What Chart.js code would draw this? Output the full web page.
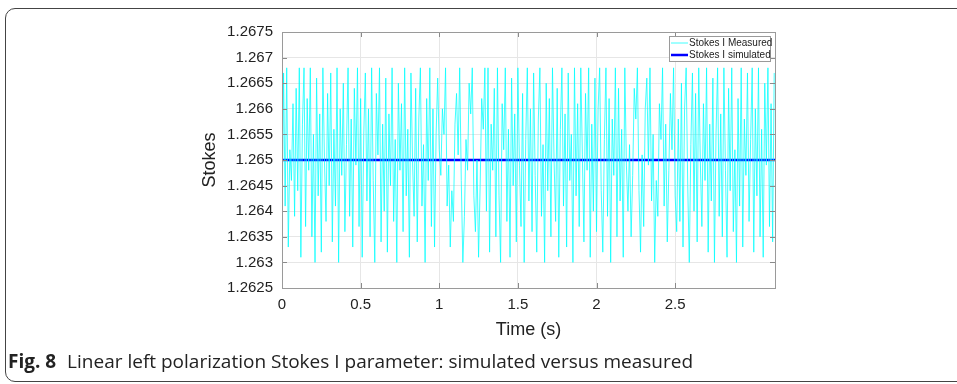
<!DOCTYPE html>
<html>
<head>
<meta charset="utf-8">
<script src="https://cdn.jsdelivr.net/npm/chart.js@4.4.1/dist/chart.umd.min.js"></script>
<style>
  body { margin: 0; background: #fff; }
  #wrap { position: relative; width: 957px; height: 384px; overflow: hidden; }
  #frame { position: absolute; left: 5px; top: 8px; width: 1000px; height: 372px; border: 1.5px solid #444; border-radius: 10px; }
  #chartStokes { position: absolute; left: 0; top: 0; }
  #caption { position: absolute; left: 8px; top: 348px; font-family: 'Open Sans', 'Noto Sans', sans-serif; font-size: 19px; color: #222; white-space: nowrap; }
  #caption b { font-weight: 700; margin-right: 6px; }
</style>
</head>
<body>
<div id="wrap">
  <div id="frame"></div>
  <canvas id="chartStokes" width="957" height="384"></canvas>
  <div id="caption"><b>Fig. 8</b> Linear left polarization Stokes I parameter: simulated versus measured</div>
</div>
<script>
// sample spacing of the measured trace (s) and end of the time axis
const SAMPLE_STEP = 0.01;
const T_END = 3.135;

const xTickValues = [0, 0.5, 1, 1.5, 2, 2.5];
const yTickValues = [1.2625, 1.263, 1.2635, 1.264, 1.2645, 1.265, 1.2655, 1.266, 1.2665, 1.267, 1.2675];

const measuredLabel = 'Stokes I Measured';
const simulatedLabel = 'Stokes I simulated';

// Stokes I measured
const measured = [
  1.2636, 1.2667, 1.2641, 1.2668, 1.2633, 1.2652, 1.2646, 1.2661, 1.2639, 1.2664,
  1.2644, 1.2668, 1.2631, 1.2657, 1.2668, 1.2637, 1.2662, 1.2648, 1.2668, 1.2635,
  1.2655, 1.2630, 1.2666, 1.2643, 1.2659, 1.2632, 1.2668, 1.2650, 1.2638, 1.2663,
  1.2645, 1.2667, 1.2634, 1.2656, 1.2641, 1.2668, 1.2630, 1.2660, 1.2647, 1.2665,
  1.2636, 1.2653, 1.2668, 1.2639, 1.2658, 1.2633, 1.2664, 1.2649, 1.2668, 1.2637,
  1.2662, 1.2631, 1.2655, 1.2667, 1.2642, 1.2660, 1.2635, 1.2668, 1.2646, 1.2630,
  1.2663, 1.2651, 1.2668, 1.2634, 1.2657, 1.2640, 1.2666, 1.2632, 1.2659, 1.2645,
  1.2668, 1.2638, 1.2654, 1.2630, 1.2665, 1.2648, 1.2661, 1.2636, 1.2668, 1.2643,
  1.2656, 1.2631, 1.2667, 1.2650, 1.2639, 1.2664, 1.2634, 1.2658, 1.2668, 1.2641,
  1.2653, 1.2630, 1.2662, 1.2646, 1.2668, 1.2637, 1.2660, 1.2633, 1.2655, 1.2666,
  1.2652, 1.2647, 1.2660, 1.2655, 1.2668, 1.2641, 1.2649, 1.2633, 1.2644, 1.2638,
  1.2657, 1.2663, 1.2651, 1.2668, 1.2646, 1.2630, 1.2639, 1.2654, 1.2648, 1.2665,
  1.2659, 1.2668, 1.2643, 1.2636, 1.2650, 1.2631, 1.2645, 1.2662, 1.2656, 1.2668,
  1.2640, 1.2668, 1.2632, 1.2657, 1.2648, 1.2664, 1.2635, 1.2668, 1.2643, 1.2630,
  1.2661, 1.2652, 1.2668, 1.2638, 1.2656, 1.2631, 1.2666, 1.2645, 1.2659, 1.2634,
  1.2668, 1.2649, 1.2637, 1.2663, 1.2630, 1.2654, 1.2668, 1.2642, 1.2660, 1.2636,
  1.2667, 1.2647, 1.2632, 1.2658, 1.2668, 1.2639, 1.2653, 1.2630, 1.2665, 1.2644,
  1.2662, 1.2635, 1.2668, 1.2650, 1.2638, 1.2664, 1.2631, 1.2656, 1.2668, 1.2641,
  1.2659, 1.2633, 1.2667, 1.2646, 1.2655, 1.2630, 1.2668, 1.2643, 1.2661, 1.2637,
  1.2668, 1.2651, 1.2634, 1.2663, 1.2648, 1.2668, 1.2631, 1.2657, 1.2640, 1.2666,
  1.2636, 1.2660, 1.2668, 1.2644, 1.2632, 1.2654, 1.2668, 1.2639, 1.2662, 1.2630,
  1.2658, 1.2647, 1.2668, 1.2635, 1.2664, 1.2642, 1.2656, 1.2631, 1.2668, 1.2649,
  1.2640, 1.2653, 1.2635, 1.2647, 1.2664, 1.2658, 1.2668, 1.2644, 1.2632, 1.2651,
  1.2637, 1.2660, 1.2666, 1.2649, 1.2668, 1.2642, 1.2655, 1.2630, 1.2646, 1.2639,
  1.2661, 1.2654, 1.2668, 1.2641, 1.2657, 1.2634, 1.2648, 1.2663, 1.2652, 1.2668,
  1.2643, 1.2636, 1.2658,
  1.2638, 1.2665, 1.2633, 1.2660, 1.2668, 1.2645, 1.2630, 1.2653, 1.2667, 1.2640,
  1.2663, 1.2634, 1.2668, 1.2650, 1.2637, 1.2661, 1.2646, 1.2668, 1.2632, 1.2657,
  1.2642, 1.2666, 1.2630, 1.2655, 1.2668, 1.2639, 1.2659, 1.2635, 1.2668, 1.2648,
  1.2631, 1.2664, 1.2644, 1.2668, 1.2636, 1.2652, 1.2630, 1.2662, 1.2641, 1.2668,
  1.2633, 1.2658, 1.2647, 1.2667, 1.2638, 1.2654, 1.2668, 1.2632, 1.2660, 1.2643,
  1.2668, 1.2635, 1.2656, 1.2631, 1.2665, 1.2649, 1.2668, 1.2637, 1.2661, 1.2634, 1.2667
];

// simulated value is flat over the whole record
const simulatedTimes = [0, T_END];
const simulated = [1.265, 1.265];

const measuredPoints = measured.map((v, i) => ({ x: i * SAMPLE_STEP, y: v }));
const simulatedPoints = simulated.map((v, i) => ({ x: simulatedTimes[i], y: v }));

// MATLAB-ish box, inward ticks and legend inside the axes
const matlabAxes = {
  id: 'matlabAxes',
  afterDatasetsDraw(chart) {
    const { ctx, chartArea: a, scales } = chart;
    ctx.save();
    ctx.strokeStyle = '#8a8a8a';
    ctx.lineWidth = 1;
    ctx.beginPath();
    yTickValues.forEach(v => {
      const y = Math.round(scales.y.getPixelForValue(v)) + 0.5;
      ctx.moveTo(a.left, y); ctx.lineTo(a.left + 5, y);
      ctx.moveTo(a.right, y); ctx.lineTo(a.right - 5, y);
    });
    xTickValues.forEach(v => {
      const x = Math.round(scales.x.getPixelForValue(v)) + 0.5;
      ctx.moveTo(x, a.bottom); ctx.lineTo(x, a.bottom - 5);
      ctx.moveTo(x, a.top); ctx.lineTo(x, a.top + 5);
    });
    ctx.stroke();
    ctx.strokeStyle = '#9a9a9a';
    ctx.strokeRect(Math.round(a.left) + 0.5, Math.round(a.top) + 0.5, Math.round(a.right - a.left), Math.round(a.bottom - a.top));

    // legend
    const bx = a.right - 106, by = a.top + 4, bw = 101, bh = 25;
    ctx.fillStyle = '#fff';
    ctx.fillRect(bx, by, bw, bh);
    ctx.strokeStyle = '#9a9a9a';
    ctx.strokeRect(bx + 0.5, by + 0.5, bw, bh);
    ctx.font = '10px "Liberation Sans", Arial, sans-serif';
    ctx.textBaseline = 'middle';
    chart.data.datasets.forEach((ds, i) => {
      const y = by + 7 + i * 12;
      ctx.strokeStyle = ds.borderColor;
      ctx.lineWidth = ds.borderWidth;
      ctx.beginPath();
      ctx.moveTo(bx + 2, y); ctx.lineTo(bx + 19, y);
      ctx.stroke();
      ctx.fillStyle = '#222';
      ctx.fillText(ds.label, bx + 20, y);
    });
    ctx.restore();
  }
};

new Chart(document.getElementById('chartStokes').getContext('2d'), {
  type: 'line',
  data: {
    datasets: [
      {
        label: measuredLabel,
        data: measuredPoints,
        borderColor: 'rgba(0, 255, 255, 0.75)',
        borderWidth: 1,
        pointRadius: 0,
        tension: 0
      },
      {
        label: simulatedLabel,
        data: simulatedPoints,
        borderColor: '#0000ff',
        borderWidth: 2.5,
        pointRadius: 0
      }
    ]
  },
  options: {
    responsive: false,
    animation: false,
    devicePixelRatio: 1,
    layout: { padding: { left: 195, top: 32, right: 182, bottom: 39 } },
    plugins: {
      legend: { display: false },
      tooltip: { enabled: false }
    },
    scales: {
      x: {
        type: 'linear',
        min: 0,
        max: T_END,
        afterBuildTicks: s => { s.ticks = xTickValues.map(v => ({ value: v })); },
        afterFit: s => { s.height = 57; },
        grid: { color: '#e6e6e6', drawTicks: false },
        border: { color: '#9a9a9a' },
        ticks: {
          padding: 8,
          color: '#222',
          font: { family: '"Liberation Sans", Arial, sans-serif', size: 15 },
          callback: v => String(v)
        },
        title: {
          display: true,
          text: 'Time (s)',
          color: '#222',
          font: { family: '"Liberation Sans", Arial, sans-serif', size: 18 },
          padding: { top: 4, bottom: 4 }
        }
      },
      y: {
        min: 1.2625,
        max: 1.2675,
        afterBuildTicks: s => { s.ticks = yTickValues.map(v => ({ value: v })); },
        afterFit: s => { s.width = 87; },
        grid: { color: '#e6e6e6', drawTicks: false },
        border: { color: '#9a9a9a' },
        ticks: {
          padding: 9,
          color: '#222',
          font: { family: '"Liberation Sans", Arial, sans-serif', size: 15 },
          callback: v => String(parseFloat(v.toFixed(4)))
        },
        title: {
          display: true,
          text: 'Stokes',
          color: '#222',
          font: { family: '"Liberation Sans", Arial, sans-serif', size: 18 },
          padding: { top: 4, bottom: 4 }
        }
      }
    }
  },
  plugins: [matlabAxes]
});
</script>
</body>
</html>
